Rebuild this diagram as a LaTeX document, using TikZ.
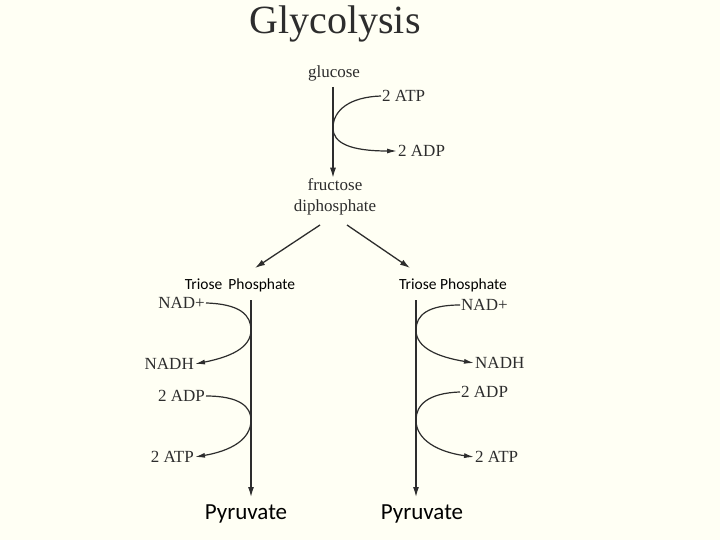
\documentclass[tikz,border=0pt]{standalone}
\usepackage{fontspec}
\setmainfont{Liberation Serif}
\newfontfamily\trisf{Carlito}
\usetikzlibrary{arrows.meta}
\definecolor{bg}{RGB}{255,255,244}
\definecolor{ln}{RGB}{45,45,45}
\begin{document}
\begin{tikzpicture}[x=1pt,y=-1pt,
  lab/.style={font=\fontsize{17}{19}\selectfont, text=ln, inner sep=1pt},
  tri/.style={font=\trisf\fontsize{15.5}{18}\selectfont, inner sep=0pt},
  pyr/.style={font=\trisf\fontsize{23}{26}\selectfont, inner sep=0pt},
  arr/.style={draw=ln, line width=1.3pt, -{Latex[length=10pt,width=6pt]}},
  crv/.style={draw=ln, line width=1.2pt},
  crva/.style={crv, -{Latex[length=10pt,width=5pt]}}]
\fill[bg] (0,0) rectangle (720,540);
\useasboundingbox (0,0) rectangle (720,540);
\node[font=\fontsize{40}{44}\selectfont, text=ln] (title) at (335,24) {Glycolysis};
\node[lab] (glu) at (334,73) {glucose};
\node[lab,anchor=west] (atp0) at (381,96) {2 ATP};
\node[lab,anchor=west] (adp0) at (397,151) {2 ADP};
\node[lab] (fru) at (335,185) {fructose};
\node[lab] (dip) at (335,207) {diphosphate};
\coordinate (m0) at (333,128);
\draw[arr] (333,87) -- (fru.north -| 333,0);
\draw[crv] (atp0.west) .. controls (350,97) and (333,110) .. (m0);
\draw[crva] (m0) .. controls (333,143) and (350,151) .. (adp0.west);
\node[tri] (t1) at (240,285) {Triose\, Phosphate};
\node[tri] (t2) at (453,285) {Triose Phosphate};
\draw[arr] (320,225) -- (255,268);
\draw[arr] (347,225) -- (410,268);
% left branch
\node[lab,anchor=east] (nad1) at (206,303) {NAD+};
\node[lab,anchor=east] (nadh1) at (195,364) {NADH};
\node[lab,anchor=east] (adp1) at (206,396) {2 ADP};
\node[lab,anchor=east] (atp1) at (195,457) {2 ATP};
\node[pyr] (p1) at (246,514) {Pyruvate};
\draw[arr] (251,300) -- (251,497);
\coordinate (l1) at (251,330);
\coordinate (l2) at (251,420);
\draw[crv] (nad1.east) .. controls (240,304) and (251,315) .. (l1);
\draw[crva] (l1) .. controls (251,348) and (230,357) .. (nadh1.east);
\draw[crv] (adp1.east) .. controls (240,396) and (251,407) .. (l2);
\draw[crva] (l2) .. controls (251,440) and (230,451) .. (atp1.east);
% right branch
\node[lab,anchor=west] (nad2) at (460,305) {NAD+};
\node[lab,anchor=west] (nadh2) at (474,363) {NADH};
\node[lab,anchor=west] (adp2) at (460,392) {2 ADP};
\node[lab,anchor=west] (atp2) at (474,457) {2 ATP};
\node[pyr] (p2) at (422,514) {Pyruvate};
\draw[arr] (416,300) -- (416,497);
\coordinate (r1) at (416,330);
\coordinate (r2) at (416,420);
\draw[crv] (nad2.west) .. controls (428,305) and (416,315) .. (r1);
\draw[crva] (r1) .. controls (416,348) and (438,357) .. (nadh2.west);
\draw[crv] (adp2.west) .. controls (428,393) and (416,405) .. (r2);
\draw[crva] (r2) .. controls (416,440) and (438,452) .. (atp2.west);
\end{tikzpicture}
\end{document}
